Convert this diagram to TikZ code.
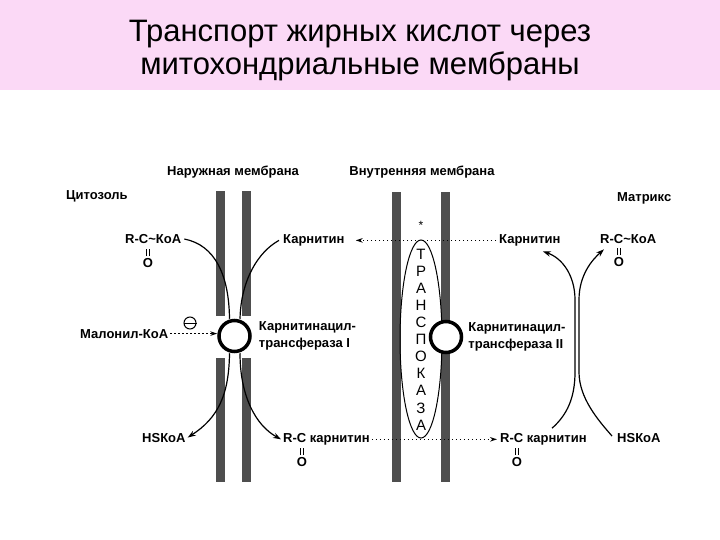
\documentclass[tikz,border=0pt]{standalone}
\usepackage{fontspec}
\setmainfont{Liberation Sans}
\usetikzlibrary{arrows.meta,positioning,shapes.geometric}

\definecolor{titlepink}{RGB}{251,217,246}
\definecolor{membrane}{RGB}{78,78,78}

\begin{document}
\begin{tikzpicture}[
    x=1pt, y=-1pt,
    node distance=6pt,
    bar/.style={fill=membrane},
    heading/.style={font=\fontsize{31}{33}\selectfont, anchor=base},
    lbl/.style={font=\fontsize{13}{17}\selectfont\bfseries, inner sep=0pt},
    oxo/.style={font=\fontsize{13}{17}\selectfont\bfseries, inner sep=0pt},
    enzyme/.style={circle, draw, line width=3.5pt, fill=white, minimum size=31pt, inner sep=0pt},
    carrier/.style={ellipse, draw, line width=1pt, minimum width=42pt, minimum height=198pt, inner sep=0pt},
    flow/.style={line width=1.2pt, -{Stealth[length=8pt, width=5.5pt]}},
    feed/.style={line width=1.2pt},
    dotflow/.style={line width=1.2pt, dash pattern=on 1.5pt off 2.5pt, -{Stealth[length=7pt, width=4.5pt]}},
    bond/.style={line width=0.9pt}
]
\useasboundingbox (0,0) rectangle (720,540);
\fill[white] (0,0) rectangle (720,540);

% Title band
\fill[titlepink] (0,0) rectangle (720,90);
\node[heading] (title1) at (360,42) {Транспорт жирных кислот через};
\node[heading] (title2) at (360,75) {митохондриальные мембраны};

% Membranes
\fill[bar] (215.5,191) rectangle (225,316);
\fill[bar] (215.5,358) rectangle (225,482);
\fill[bar] (242,191) rectangle (251,316);
\fill[bar] (242,358) rectangle (251,482);
\fill[bar] (392,192) rectangle (401,482);
\fill[bar] (441,192) rectangle (450,482);

\node[lbl, anchor=base] (outerm) at (233,176) {Наружная мембрана};
\node[lbl, anchor=base] (innerm) at (422,176) {Внутренняя мембрана};
\node[lbl, anchor=base west] (cytosol) at (66,200) {Цитозоль};
\node[lbl, anchor=base west] (matrix) at (617,202) {Матрикс};

% Translocase
\node[carrier] (transl) at (421,339) {};
\node[font=\fontsize{15}{17.1}\selectfont, align=center, inner sep=0pt] (translname) at (421,339.5) {Т\\Р\\А\\Н\\С\\П\\О\\К\\А\\З\\А};
\node[font=\fontsize{12}{12}\selectfont, inner sep=0pt] (star) at (421,225) {*};

% Enzymes
\node[enzyme] (cat1) at (234.5,336) {};
\node[enzyme] (cat2) at (446,337) {};
\node[lbl, align=left, right=7pt of cat1] (cat1name) {Карнитинацил-\\трансфераза I};
\node[lbl, align=left, right=5pt of cat2] (cat2name) {Карнитинацил-\\трансфераза II};

% Cytosol side
\node[lbl, anchor=base west] (acylL) at (125,243.5) {R-C\textasciitilde КоА};
\node[oxo] (oxoL) at (148,263) {O};
\node[lbl, anchor=base west] (carnL) at (283,243.5) {Карнитин};
\node[lbl, anchor=base west] (malonyl) at (80,338) {Малонил-КоА};
\node[circle, draw, line width=1pt, minimum size=12pt, inner sep=0pt] (inhib) at (190,323) {};
\draw[line width=1pt] (inhib.west) -- (inhib.east);
\node[lbl, anchor=base west] (hskoaL) at (142,442) {HSКоА};
\node[lbl, anchor=base west] (acarnL) at (283,442.5) {R-C карнитин};
\node[oxo] (oxoB) at (302,462) {O};

% Matrix side
\node[lbl, anchor=base west] (carnM) at (499,243.5) {Карнитин};
\node[lbl, anchor=base west] (acylM) at (600,243.5) {R-C\textasciitilde КоА};
\node[oxo] (oxoM) at (619,262) {O};
\node[lbl, anchor=base west] (acarnM) at (500,442.5) {R-C карнитин};
\node[oxo] (oxoC) at (517,462) {O};
\node[lbl, anchor=base west] (hskoaM) at (617,442.5) {HSКоА};

% C=O double bonds
\foreach \o in {oxoL,oxoB,oxoM,oxoC}
  \draw[bond] ([xshift=-1.4pt,yshift=2pt]\o.north) -- ++(0,-7)
              ([xshift=1.4pt,yshift=2pt]\o.north) -- ++(0,-7);

% Reaction at CPT I
\draw[feed] ([xshift=3pt]acylL.east) .. controls (215,245) and (229,275) .. ([xshift=-5pt]cat1.north);
\draw[feed] ([xshift=-4pt]carnL.west) .. controls (258,252) and (241,280) .. ([xshift=5.5pt]cat1.north);
\draw[flow] ([xshift=-5pt]cat1.south) .. controls (229,395) and (218,418) .. ([xshift=2pt]hskoaL.east);
\draw[flow] ([xshift=5.5pt]cat1.south) .. controls (240,395) and (255,425) .. ([xshift=-2pt]acarnL.west);
\draw[dotflow, shorten <=2pt] (malonyl.east) -- (malonyl.east -| cat1.west);

% Shuttle through the inner membrane
\draw[dotflow, shorten <=3pt, shorten >=11pt] (carnM.west) -- (carnM.west -| carnL.east);
\draw[dotflow, shorten <=2pt, shorten >=3pt] (acarnL.east) -- (acarnL.east -| acarnM.west);

% Reaction at CPT II
\draw[flow] ([xshift=52pt,yshift=5pt]acarnM.north west) .. controls (567,415) and (575,398) .. (575,372)
  -- (575,300) .. controls (575,275) and (562,258) .. ([xshift=13pt,yshift=-5pt]carnM.south);
\draw[flow] ([xshift=-5pt,yshift=2pt]hskoaM.west) .. controls (598,420) and (579,398) .. (579,372)
  -- (579,300) .. controls (579,275) and (592,260) .. ([xshift=4pt,yshift=-5.5pt]acylM.south west);
\end{tikzpicture}
\end{document}
